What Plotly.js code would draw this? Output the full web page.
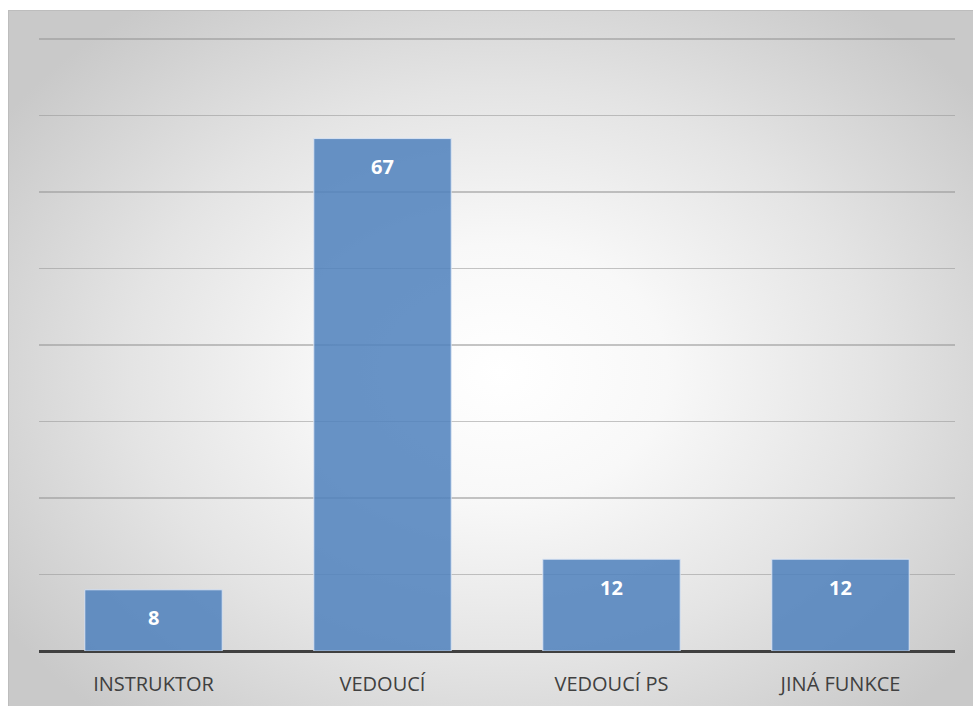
<!DOCTYPE html>
<html>
<head>
<meta charset="utf-8">
<script src="https://cdn.plot.ly/plotly-3.0.1.min.js"></script>
<style>
html,body{margin:0;padding:0;background:#fff;}
#wrap{position:relative;width:973px;height:706px;}
#bg{position:absolute;left:8px;top:10px;width:965px;height:696px;box-sizing:border-box;border-left:1px solid #bdbdbd;border-top:1px solid #bdbdbd;
background:radial-gradient(ellipse 62% 66% at 51% 52%, #ffffff 0%, #f8f8f8 28%, #e4e4e4 62%, #c9c9c9 100%);}
#chart{position:absolute;left:0;top:0;width:973px;height:706px;}
</style>
</head>
<body>
<div id="wrap"><div id="bg"></div><div id="chart"></div></div>
<script>
const categories = ["INSTRUKTOR", "VEDOUCÍ", "VEDOUCÍ PS", "JINÁ FUNKCE"];
const values = [8, 67, 12, 12];
const gridTicks = [0, 10, 20, 30, 40, 50, 60, 70, 80];

const trace = {
  type: 'bar',
  x: categories,
  y: values,
  marker: {color: 'rgba(79,129,189,0.86)', line: {color: 'rgba(220,230,245,0.9)', width: 1}},
  width: 0.6,
  hoverinfo: 'none'
};

const annotations = categories.map((c, i) => ({
  x: c, y: values[i], xref: 'x', yref: 'y',
  text: '<b>' + values[i] + '</b>', showarrow: false,
  yanchor: 'middle', yshift: -28,
  font: {family: 'Open Sans, sans-serif', size: 20, color: '#ffffff'}
}));

const layout = {
  width: 973, height: 706,
  margin: {l: 39, r: 18, t: 38, b: 55},
  paper_bgcolor: 'rgba(0,0,0,0)',
  plot_bgcolor: 'rgba(0,0,0,0)',
  showlegend: false,
  bargap: 0.4,
  annotations: annotations,
  xaxis: {
    type: 'category',
    tickfont: {family: 'Open Sans, sans-serif', size: 20, color: '#404040'},
    ticks: 'outside', ticklen: 15, tickcolor: 'rgba(0,0,0,0)',
    showline: false, showgrid: false, zeroline: false
  },
  yaxis: {
    range: [0, 80.15],
    tickvals: gridTicks,
    showticklabels: false,
    showgrid: true, gridcolor: 'rgba(150,150,150,0.55)', gridwidth: 1.5,
    zeroline: true, zerolinecolor: '#404040', zerolinewidth: 3,
    showline: false
  }
};

Plotly.newPlot('chart', [trace], layout, {displayModeBar: false, staticPlot: true});
</script>
</body>
</html>
